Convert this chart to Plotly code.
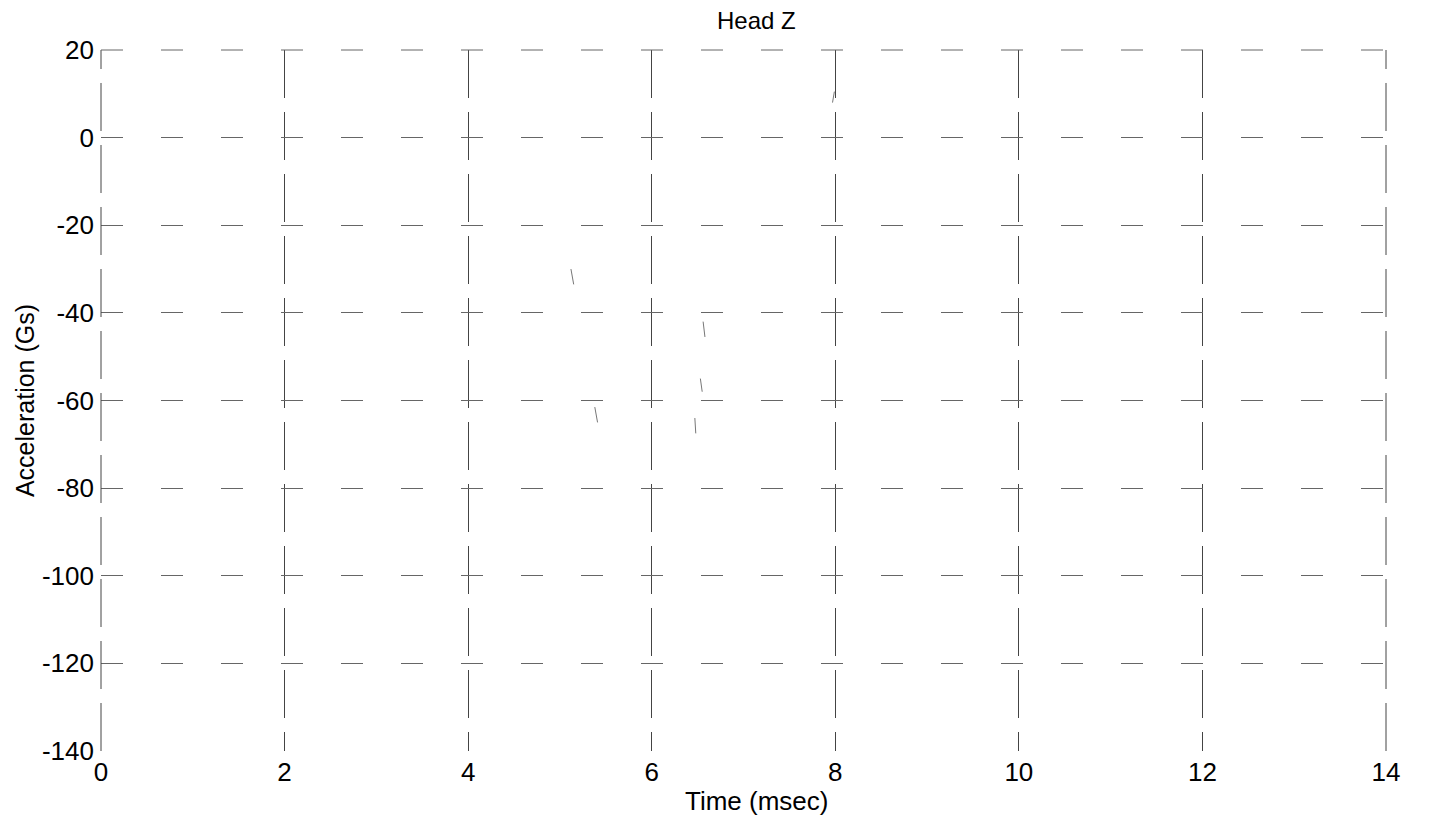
import plotly.graph_objects as go

# Visible fragments of the (mostly faded) Head Z trace
time_ms = [5.12, 5.15, None, 5.38, 5.41, None, 6.47, 6.48, None, 6.53, 6.55, None, 6.56, 6.58, None, 7.97, 7.99]
accel_g = [-30.0, -33.5, None, -61.5, -65.0, None, -64.0, -67.5, None, -55.0, -58.0, None, -42.0, -45.5, None, 8.0, 10.5]

x_ticks = [0, 2, 4, 6, 8, 10, 12, 14]
y_ticks = [20, 0, -20, -40, -60, -80, -100, -120, -140]

fig = go.Figure()
fig.add_trace(go.Scatter(x=time_ms, y=accel_g, mode="lines",
                         line=dict(color="#777777", width=1),
                         connectgaps=False, showlegend=False, hoverinfo="skip"))

# dashed frame-edge grid lines (left, right and top), as in the scan
edge_style = dict(color="#444444", width=1, dash="48px,14px")
fig.add_shape(type="line", xref="x domain", yref="y domain", x0=0, x1=0, y0=0, y1=1, line=edge_style)
fig.add_shape(type="line", xref="x domain", yref="y domain", x0=1, x1=1, y0=0, y1=1, line=edge_style)
fig.add_shape(type="line", xref="x domain", yref="y domain", x0=0, x1=1, y0=1, y1=1,
              line=dict(color="#666666", width=1, dash="22px,38px"))

# title and x-axis title as annotations (slightly right of centre in the scan)
fig.add_annotation(text="Head Z", xref="paper", yref="paper", x=0.5105, y=1,
                   xanchor="center", yanchor="bottom", yshift=14, showarrow=False,
                   font=dict(size=24, color="black"))
fig.add_annotation(text="Time (msec)", xref="paper", yref="paper", x=0.5105, y=0,
                   xanchor="center", yanchor="top", yshift=-33, showarrow=False,
                   font=dict(size=26, color="black"))

fig.update_layout(
    width=1444, height=825,
    paper_bgcolor="white", plot_bgcolor="white",
    margin=dict(l=93, r=66, t=42, b=82, autoexpand=False),
    font=dict(family="Liberation Sans, Arial, sans-serif", color="black"),
    showlegend=False,
)
fig.update_xaxes(
    range=[0, 14], tickvals=x_ticks, ticktext=[str(v) for v in x_ticks],
    showline=False, zeroline=False, ticks="", automargin=False,
    showgrid=True, gridcolor="#444444", gridwidth=1, griddash="48px,14px",
    tickfont=dict(size=26), ticklabelstandoff=3,
)
fig.update_yaxes(
    range=[-140, 20], tickvals=y_ticks, ticktext=[str(v) for v in y_ticks],
    showline=False, zeroline=False, ticks="", automargin=False,
    showgrid=True, gridcolor="#666666", gridwidth=1, griddash="22px,38px",
    tickfont=dict(size=26), ticklabelstandoff=6,
    title=dict(text="Acceleration (Gs)", font=dict(size=25), standoff=0),
)

fig.write_html("out.html")
